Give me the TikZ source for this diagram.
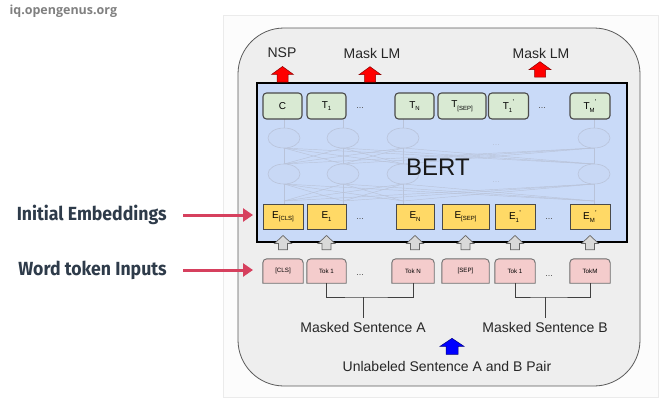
\documentclass[tikz,border=0pt]{standalone}
\usepackage{fontspec}
\setmainfont{Liberation Sans}
\newfontfamily\labfont{Fira Sans}
\newfontfamily\wmfont{Open Sans}
\usetikzlibrary{arrows.meta,backgrounds,calc}
\definecolor{panel}{HTML}{EEEEEE}
\definecolor{panelline}{HTML}{5A5A5A}
\definecolor{bertblue}{HTML}{C9DAF8}
\definecolor{tgreen}{HTML}{D9EAD3}
\definecolor{eyellow}{HTML}{FFD966}
\definecolor{tokpink}{HTML}{F4CCCC}
\definecolor{boxline}{HTML}{4A4A4A}
\definecolor{labcol}{HTML}{2E3B4A}
\definecolor{pinkarrow}{HTML}{D6405E}
\definecolor{netcol}{HTML}{B9C3D9}
\definecolor{netfill}{HTML}{C8D8F5}
\definecolor{grayarr}{HTML}{D9D9D9}
\newcommand\ssub[2]{#1\raisebox{-0.5ex}{\fontsize{6}{6}\selectfont #2}}
\newcommand\ssubsup[3]{#1\raisebox{-0.5ex}{\fontsize{6}{6}\selectfont #2}\kern0.3pt\raisebox{0.9ex}{\fontsize{7}{7}\selectfont #3}}
\newcommand\fatup[6]{%
  \filldraw[#1] let \p1=#2, \p2=#3 in
     (\x1-#5,\y1) -- (\x1-#5,\y2-#6) -- (\x1-#4,\y2-#6) -- (\x1,\y2)
     -- (\x1+#4,\y2-#6) -- (\x1+#5,\y2-#6) -- (\x1+#5,\y1) -- cycle;}
\tikzset{
  tbox/.style={draw=boxline, line width=1.1pt, fill=tgreen, rounded corners=3.5pt,
    minimum height=26pt, inner sep=0pt, font=\fontsize{10}{10}\selectfont},
  ebox/.style={draw=boxline, line width=1pt, fill=eyellow,
    minimum height=25pt, inner sep=0pt, font=\fontsize{10}{10}\selectfont},
  tok/.style={minimum height=24pt, inner sep=0pt, font=\fontsize{6.2}{6.2}\selectfont},
  tokshape/.style={draw=boxline!80, line width=0.9pt, fill=tokpink},
  dots/.style={font=\fontsize{9}{9}\selectfont, text=black!70},
  lbl/.style={font=\fontsize{14}{14}\selectfont, text=black!85},
  sidelab/.style={font=\labfont\bfseries\fontsize{19}{19}\selectfont, text=labcol, anchor=east, xscale=0.93},
  net/.style={draw=netcol, line width=0.45pt},
  netnode/.style={draw=netcol, line width=0.6pt, fill=netfill},
  grayarrow/.style={draw=black!60, line width=0.7pt, fill=grayarr},
  redarrow/.style={draw=red!55!black, line width=0.5pt, fill=red},
  bluearrow/.style={draw=blue!50!black, line width=0.5pt, fill=blue},
  pinkline/.style={draw=pinkarrow, line width=3pt, -{Triangle[length=10pt,width=13pt]}},
  bracket/.style={draw=black!75, line width=0.9pt},
}
\begin{document}
\begin{tikzpicture}[x=1pt,y=-1pt]
\useasboundingbox (0,0) rectangle (661,400);
\begin{scope}[on background layer]
  \fill[white] (0,0) rectangle (661,400);
  \draw[black!8, fill=black!1] (223,15) rectangle (658,397);
  \draw[panelline, line width=0.8pt, fill=panel, rounded corners=46pt] (238,28) rectangle (640,386);
\end{scope}

\node[anchor=west, font=\wmfont\bfseries\fontsize{12.5}{12.5}\selectfont, text=black!50] (wm) at (6,11) {iq.opengenus.org};

% BERT box
\node[draw=black, line width=1.8pt, fill=bertblue, minimum width=370pt, minimum height=159pt, inner sep=0pt] (bert) at (442,162.5) {};

% network
\foreach \x in {284,343,403,594} { \draw[net] (\x,119) -- (\x,204); }
\foreach \a in {284,343,403,594} {
  \foreach \b in {284,343,403,594} {
    \draw[net] (\a,148) -- (\b,164);
    \draw[net] (\a,184) -- (\b,201);
  }
}
\foreach \x in {284,343,403,594} {
  \foreach \y in {138,174} {
    \filldraw[netnode] (\x,\y) ellipse[x radius=16, y radius=10];
  }
}
\node[font=\fontsize{9}{9}\selectfont, text=netcol] (nd1) at (496,145) {...};
\node[font=\fontsize{9}{9}\selectfont, text=netcol] (nd2) at (496,182) {...};

\node[font=\fontsize{24}{24}\selectfont, text=black!90] (berttxt) at (438,167) {BERT};

% output row
\node[tbox, minimum width=39pt] (tC) at (282.5,106) {C};
\node[tbox, minimum width=39pt] (t1) at (326.5,106) {\ssub{T}{1}};
\node[dots] (td1) at (360,108) {...};
\node[tbox, minimum width=39pt] (tN) at (414.5,106) {\ssub{T}{N}};
\node[tbox, minimum width=48pt] (tSEP) at (462,106) {\ssub{T}{[SEP]}};
\node[tbox, minimum width=40pt] (t1p) at (508.5,106) {\ssubsup{T}{1}{'}};
\node[dots] (td2) at (542,108) {...};
\node[tbox, minimum width=40pt] (tMp) at (590,106) {\ssubsup{T}{M}{'}};

% embeddings row
\node[ebox, minimum width=40pt] (eCLS) at (283,216.5) {\ssub{E}{[CLS]}};
\node[ebox, minimum width=39pt] (e1) at (326.5,216.5) {\ssub{E}{1}};
\node[dots] (ed1) at (360,219) {...};
\node[ebox, minimum width=38pt] (eN) at (415,216.5) {\ssub{E}{N}};
\node[ebox, minimum width=47pt] (eSEP) at (465.5,216.5) {\ssub{E}{[SEP]}};
\node[ebox, minimum width=40pt] (e1p) at (515,216.5) {\ssubsup{E}{1}{'}};
\node[dots] (ed2) at (549,219) {...};
\node[ebox, minimum width=40pt] (eMp) at (590,216.5) {\ssubsup{E}{M}{'}};

% token row
\node[tok, minimum width=40pt] (kCLS) at (283,271) {[CLS]};
\node[tok, minimum width=39pt] (k1) at (326.5,271) {Tok 1};
\node[dots] (kd1) at (360,275) {...};
\node[tok, minimum width=42pt] (kN) at (413,271) {Tok N};
\node[tok, minimum width=47pt] (kSEP) at (465.5,271) {[SEP]};
\node[tok, minimum width=40pt] (k1p) at (515,271) {Tok 1};
\node[dots] (kd2) at (549,276) {...};
\node[tok, minimum width=40pt] (kM) at (590,271) {TokM};
\begin{scope}[on background layer]
\foreach \n in {kCLS,k1,kN,kSEP,k1p,kM} {
  \filldraw[tokshape] (\n.south west) -- ([yshift=-4pt]\n.north west)
    arc[start angle=180, end angle=90, radius=4pt] -- ([xshift=-4pt]\n.north east)
    arc[start angle=90, end angle=0, radius=4pt] -- (\n.south east) -- cycle;
}
\end{scope}

% gray arrows token -> embedding
\foreach \e/\k in {eCLS/kCLS, e1/k1, eN/kN, eSEP/kSEP, e1p/k1p, eMp/kM} {
  \fatup{grayarrow}{($(\e.south |- \k.north)+(0,-9)$)}{($(\e.south)+(0,6)$)}{8.5pt}{4.5pt}{8pt}
}

% top labels and red arrows
\node[lbl] (nsp) at (282,53) {NSP};
\node[lbl] (mlm1) at (372,53) {Mask LM};
\node[lbl] (mlm2) at (541,53) {Mask LM};
\fatup{redarrow}{(tC.north |- bert.north)}{($(nsp.south)+(0,5)$)}{11pt}{5.5pt}{8pt}
\fatup{redarrow}{($(mlm1.south |- bert.north)+(-2,0)$)}{($(mlm1.south)+(-2,5)$)}{11pt}{5.5pt}{8pt}
\fatup{redarrow}{($(mlm2.south |- bert.north)+(-1,-5)$)}{($(mlm2.south)+(-1,0)$)}{11pt}{5.5pt}{8pt}

% sentence labels and brackets
\node[lbl] (sa) at (363,327) {Masked Sentence A};
\node[lbl] (sb) at (545,327) {Masked Sentence B};
\node[lbl] (pair) at (447,366) {Unlabeled Sentence A and B Pair};
\coordinate (ja) at (363,297);
\coordinate (jb) at (545,297);
\draw[bracket] (k1.south) |- (ja) -| (kN.south);
\draw[bracket] (ja) -- (sa.north);
\draw[bracket] (k1p.south) |- (jb) -| (kM.south);
\draw[bracket] (jb) -- (sb.north);
\fatup{bluearrow}{($(pair.north)+(5,-3)$)}{($(pair.north)+(5,-19)$)}{12pt}{6pt}{8pt}

% side labels
\node[sidelab] (ie) at (170,215) {Initial Embeddings};
\node[sidelab] (wt) at (170,270) {Word token Inputs};
\coordinate (ieend) at (253,215);
\coordinate (wtend) at (253,270);
\draw[pinkline] (183,215) -- (ieend);
\draw[pinkline] (183,270) -- (wtend);
\end{tikzpicture}
\end{document}
